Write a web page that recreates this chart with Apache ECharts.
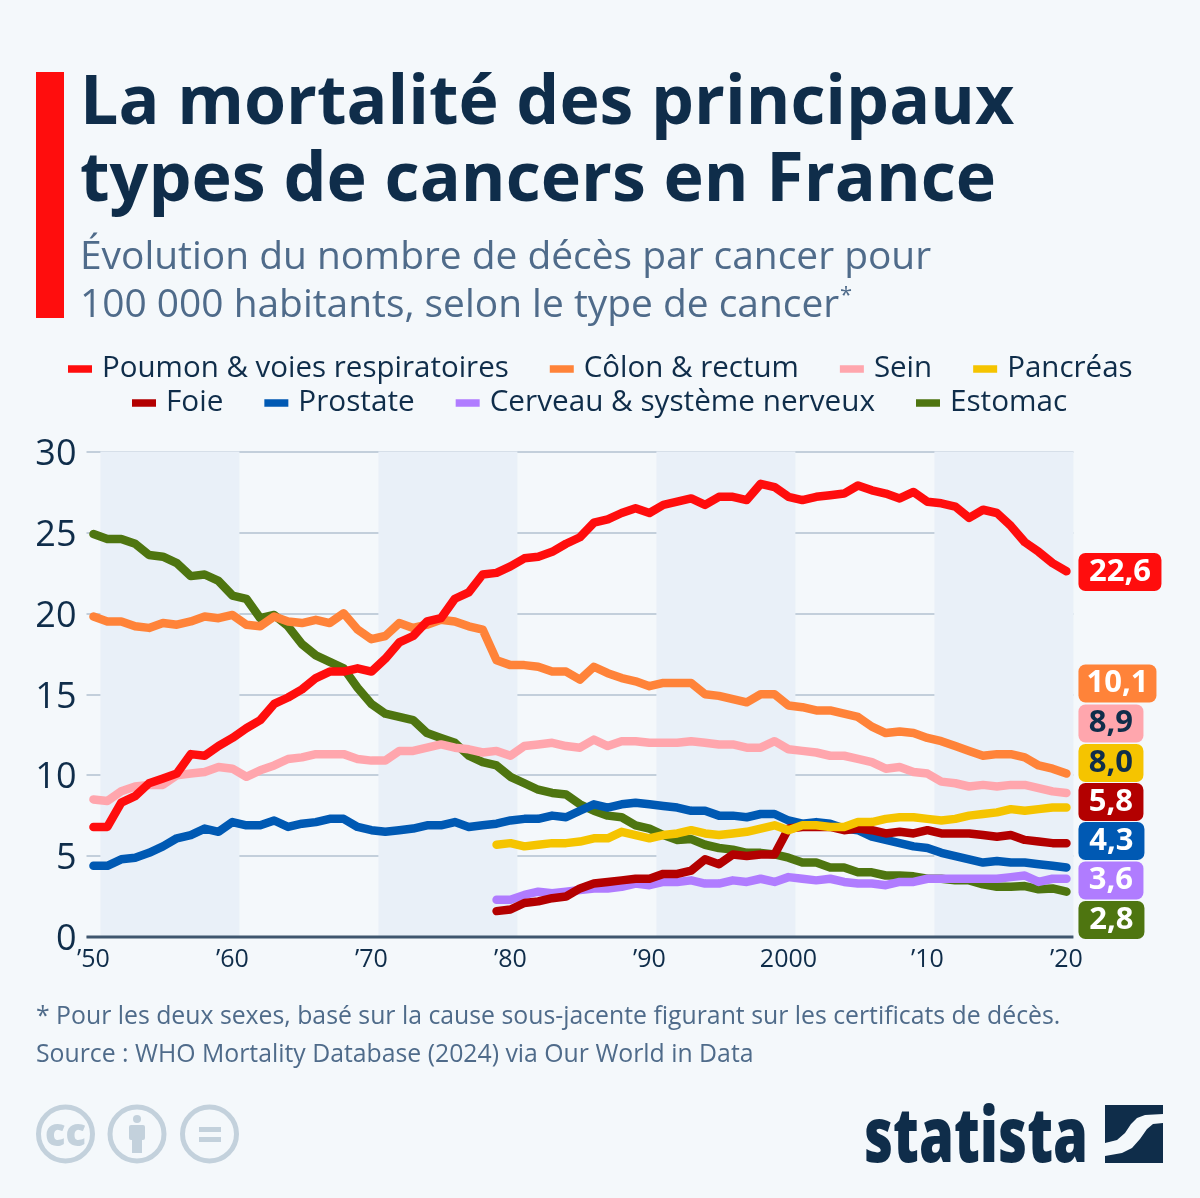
<!DOCTYPE html>
<html><head><meta charset="utf-8">
<style>html,body{margin:0;padding:0;background:#f4f8fb}#c{width:1200px;height:1198px}</style>
<script src="https://cdn.jsdelivr.net/npm/echarts@6/dist/echarts.min.js"></script>
</head><body><div id="c"></div>
<script>
const yTicks = [0,5,10,15,20,25,30];
const xTicks = [1950,1960,1970,1980,1990,2000,2010,2020];
const xTickLabels = ["’50","’60","’70","’80","’90","2000","’10","’20"];
const decadeBands = [[1950.5,1960.5],[1970.5,1980.5],[1990.5,2000.5],[2010.5,2020.5]];
const names = ["Poumon & voies respiratoires","Côlon & rectum","Sein","Pancréas","Foie","Prostate","Cerveau & système nerveux","Estomac"];
const poumon = [6.8,6.8,8.3,8.7,9.5,9.8,10.1,11.3,11.2,11.8,12.3,12.9,13.4,14.4,14.8,15.3,16.0,16.4,16.4,16.6,16.4,17.2,18.2,18.6,19.5,19.7,20.9,21.3,22.4,22.5,22.9,23.4,23.5,23.8,24.3,24.7,25.6,25.8,26.2,26.5,26.2,26.7,26.9,27.1,26.7,27.2,27.2,27.0,28.0,27.8,27.2,27.0,27.2,27.3,27.4,27.9,27.6,27.4,27.1,27.5,26.9,26.8,26.6,25.9,26.4,26.2,25.4,24.4,23.8,23.1,22.6];
const colon = [19.8,19.5,19.5,19.2,19.1,19.4,19.3,19.5,19.8,19.7,19.9,19.3,19.2,19.8,19.5,19.4,19.6,19.4,20.0,19.0,18.4,18.6,19.4,19.1,19.3,19.6,19.5,19.2,19.0,17.1,16.8,16.8,16.7,16.4,16.4,15.9,16.7,16.3,16.0,15.8,15.5,15.7,15.7,15.7,15.0,14.9,14.7,14.5,15.0,15.0,14.3,14.2,14.0,14.0,13.8,13.6,13.0,12.6,12.7,12.6,12.3,12.1,11.8,11.5,11.2,11.3,11.3,11.1,10.6,10.4,10.1];
const sein = [8.5,8.4,9.0,9.3,9.4,9.4,10.0,10.1,10.2,10.5,10.4,9.9,10.3,10.6,11.0,11.1,11.3,11.3,11.3,11.0,10.9,10.9,11.5,11.5,11.7,11.9,11.7,11.6,11.4,11.5,11.2,11.8,11.9,12.0,11.8,11.7,12.2,11.8,12.1,12.1,12.0,12.0,12.0,12.1,12.0,11.9,11.9,11.7,11.7,12.1,11.6,11.5,11.4,11.2,11.2,11.0,10.8,10.4,10.5,10.2,10.1,9.6,9.5,9.3,9.4,9.3,9.4,9.4,9.2,9.0,8.9];
const pancreas = [5.7,5.8,5.6,5.7,5.8,5.8,5.9,6.1,6.1,6.5,6.3,6.1,6.3,6.4,6.6,6.4,6.3,6.4,6.5,6.7,6.9,6.6,6.9,6.9,6.8,6.8,7.1,7.1,7.3,7.4,7.4,7.3,7.2,7.3,7.5,7.6,7.7,7.9,7.8,7.9,8.0,8.0];
const foie = [1.6,1.7,2.1,2.2,2.4,2.5,3.0,3.3,3.4,3.5,3.6,3.6,3.9,3.9,4.1,4.8,4.5,5.1,5.0,5.1,5.1,6.7,6.8,6.8,6.8,6.6,6.7,6.6,6.4,6.5,6.4,6.6,6.4,6.4,6.4,6.3,6.2,6.3,6.0,5.9,5.8,5.8];
const prostate = [4.4,4.4,4.8,4.9,5.2,5.6,6.1,6.3,6.7,6.5,7.1,6.9,6.9,7.2,6.8,7.0,7.1,7.3,7.3,6.8,6.6,6.5,6.6,6.7,6.9,6.9,7.1,6.8,6.9,7.0,7.2,7.3,7.3,7.5,7.4,7.8,8.2,8.0,8.2,8.3,8.2,8.1,8.0,7.8,7.8,7.5,7.5,7.4,7.6,7.6,7.2,7.0,7.1,7.0,6.7,6.6,6.2,6.0,5.8,5.6,5.5,5.2,5.0,4.8,4.6,4.7,4.6,4.6,4.5,4.4,4.3];
const cerveau = [2.3,2.3,2.6,2.8,2.7,2.8,2.9,3.0,3.0,3.1,3.3,3.2,3.4,3.4,3.5,3.3,3.3,3.5,3.4,3.6,3.4,3.7,3.6,3.5,3.6,3.4,3.3,3.3,3.2,3.4,3.4,3.6,3.6,3.6,3.6,3.6,3.6,3.7,3.8,3.4,3.6,3.6];
const estomac = [24.9,24.6,24.6,24.3,23.6,23.5,23.1,22.3,22.4,22.0,21.1,20.9,19.7,19.9,19.2,18.1,17.4,17.0,16.6,15.4,14.4,13.8,13.6,13.4,12.6,12.3,12.0,11.2,10.8,10.6,9.9,9.5,9.1,8.9,8.8,8.2,7.8,7.5,7.4,6.9,6.7,6.3,6.0,6.05,5.7,5.5,5.4,5.2,5.2,5.1,4.9,4.6,4.6,4.3,4.3,4.0,4.0,3.8,3.8,3.75,3.6,3.6,3.5,3.5,3.25,3.1,3.1,3.15,2.95,3.0,2.8];
const startYears = [1950,1950,1950,1979,1979,1950,1979,1950];
const seriesValues = [poumon,colon,sein,pancreas,foie,prostate,cerveau,estomac];
const endText = ["22,6","10,1","8,9","8,0","5,8","4,3","3,6","2,8"];
const colors = ["#ff0d0d","#ff8339","#ffa6ad","#f5c400","#b30000","#0059b3","#b07cff","#4e7510"];
const labelInk = ["#fff","#fff","#0f2d4a","#0f2d4a","#fff","#fff","#fff","#fff"];
const labelCenters = [572,683.5,723.5,763,802,841,880.5,920];
const labelWidths = [83,78,65,65,65,66,65,66];
const drawOrder = [7,6,5,4,3,2,1,0];

const BG="#f4f8fb", INK="#0f2d4a", SUB="#4f6b8a";
const GRID={l:86.5,r:1073.4,t:451.5,b:937};
const yOf=v=>GRID.b-v*(GRID.b-GRID.t)/30;

const series = drawOrder.map(i=>({
  type:'line', name:names[i],
  data:seriesValues[i].map((v,k)=>[startYears[i]+k,v]),
  symbol:'none', smooth:false, silent:true, animation:false, z:5+drawOrder.indexOf(i),
  clip:false,
  itemStyle:{color:colors[i]},
  lineStyle:{color:colors[i],width:8.5,cap:'round',join:'round'},
  endLabel:{show:true,formatter:'{t|'+endText[i]+'}',position:'right',distance:0,
    offset:[12,labelCenters[i]-yOf(seriesValues[i][seriesValues[i].length-1])],
    align:'left',
    rich:{t:{width:labelWidths[i],height:38,lineHeight:38,align:'center',color:labelInk[i],
      backgroundColor:colors[i],borderRadius:7,fontFamily:'Open Sans',fontWeight:'bold',fontSize:31}},
    fontFamily:'Open Sans',fontWeight:'bold',fontSize:31,lineHeight:38,padding:0}
}));
series.push({type:'line',data:[],silent:true,animation:false,z:1,
  markArea:{silent:true,z:1,itemStyle:{color:'#e9f0f8'},
    data:decadeBands.map(b=>[{xAxis:b[0]},{xAxis:b[1]}])}});

const T=(x,y,text,size,weight,fill,extra,el)=>Object.assign({type:'text',x,y:y-0.8*size,silent:true,z:20,
  style:Object.assign({text,font:`${weight} ${size}px "Open Sans"`,fill},extra||{})},el||{});
const ringC=[65.5,137,209.5], RING='#c3d1dc';
const graphic=[
 {type:'rect',shape:{x:36,y:72,width:28,height:246},style:{fill:'#ff0d0d'},silent:true},
 {type:'rect',z:4,shape:{x:GRID.l,y:GRID.b-1.5,width:GRID.r-GRID.l,height:3},style:{fill:'#3f566e'},silent:true},
 T(80,125,"La mortalité des principaux",68,700,INK),
 T(80,202,"types de cancers en France",68.2,700,INK),
 T(80,270,"Évolution du nombre de décès par cancer pour",38.9,400,SUB),
 T(80,318,"100 000 habitants, selon le type de cancer",38.9,400,SUB),
 T(840,302,"*",22,400,SUB),
 T(36,1024,"* Pour les deux sexes, basé sur la cause sous-jacente figurant sur les certificats de décès.",24.8,400,SUB),
 T(36,1062,"Source : WHO Mortality Database (2024) via Our World in Data",24.8,400,SUB),
 ...ringC.map(cx=>({type:'circle',shape:{cx,cy:1134,r:27},style:{fill:'none',stroke:RING,lineWidth:5},silent:true})),
 T(65.5,1147,"cc",38,800,RING,{textAlign:'center'}),
 {type:'circle',shape:{cx:137,cy:1119,r:4},style:{fill:RING},silent:true},
 {type:'rect',shape:{x:129,y:1125,width:16,height:15,r:2},style:{fill:RING},silent:true},
 {type:'rect',shape:{x:132,y:1138,width:10,height:15},style:{fill:RING},silent:true},
 {type:'rect',shape:{x:199,y:1127,width:22,height:5},style:{fill:RING},silent:true},
 {type:'rect',shape:{x:199,y:1137,width:22,height:5},style:{fill:RING},silent:true},
 T(864,1163,"statista",77,800,INK,{},{scaleX:0.73}),
 {type:'rect',shape:{x:1105,y:1105,width:58,height:58},style:{fill:INK},silent:true},
 {type:'polygon',shape:{points:[[1105,1143],[1117,1140],[1125,1133],[1131,1124],[1137,1118],[1145,1115],[1163,1114],[1163,1123],[1153,1124],[1147,1129],[1140,1139],[1132,1148],[1122,1153],[1105,1156]]},style:{fill:BG},silent:true}
];

const legendText={fontSize:29.5,color:INK,fontFamily:'Open Sans',padding:[0,0,0,5]};
const legendText2={fontSize:29.7,color:INK,fontFamily:'Open Sans',padding:[0,0,0,5]};
const chart=echarts.init(document.getElementById('c'),null,{renderer:'canvas'});
chart.setOption({
 backgroundColor:BG,animation:false,
 textStyle:{fontFamily:'Open Sans'},
 grid:{left:GRID.l,top:GRID.t,width:GRID.r-GRID.l,height:GRID.b-GRID.t,containLabel:false},
 legend:[
  {data:names.slice(0,4),left:68,top:354,padding:0,icon:'rect',itemWidth:24,itemHeight:7.5,itemGap:41,selectedMode:false,textStyle:legendText},
  {data:names.slice(4),left:132,top:388,padding:0,icon:'rect',itemWidth:24,itemHeight:7.5,itemGap:41,selectedMode:false,textStyle:legendText2}
 ],
 xAxis:{type:'value',min:1949.5,max:2020.5,splitLine:{show:false},axisTick:{show:false},
  axisLine:{show:false},
  axisLabel:{customValues:xTicks,formatter:v=>xTickLabels[xTicks.indexOf(v)],color:INK,fontSize:25,margin:10,fontFamily:'Open Sans'}},
 yAxis:{type:'value',min:0,max:30,interval:5,
  axisLine:{show:false},axisTick:{show:false},
  splitLine:{lineStyle:{color:'#c3cfdb',width:2}},
  axisLabel:{color:INK,margin:10,formatter:'{n|{value}}',
    rich:{n:{color:INK,fontSize:36,fontFamily:'Open Sans',padding:[6,0,0,0]}}}},
 series,graphic
});
</script></body></html>
